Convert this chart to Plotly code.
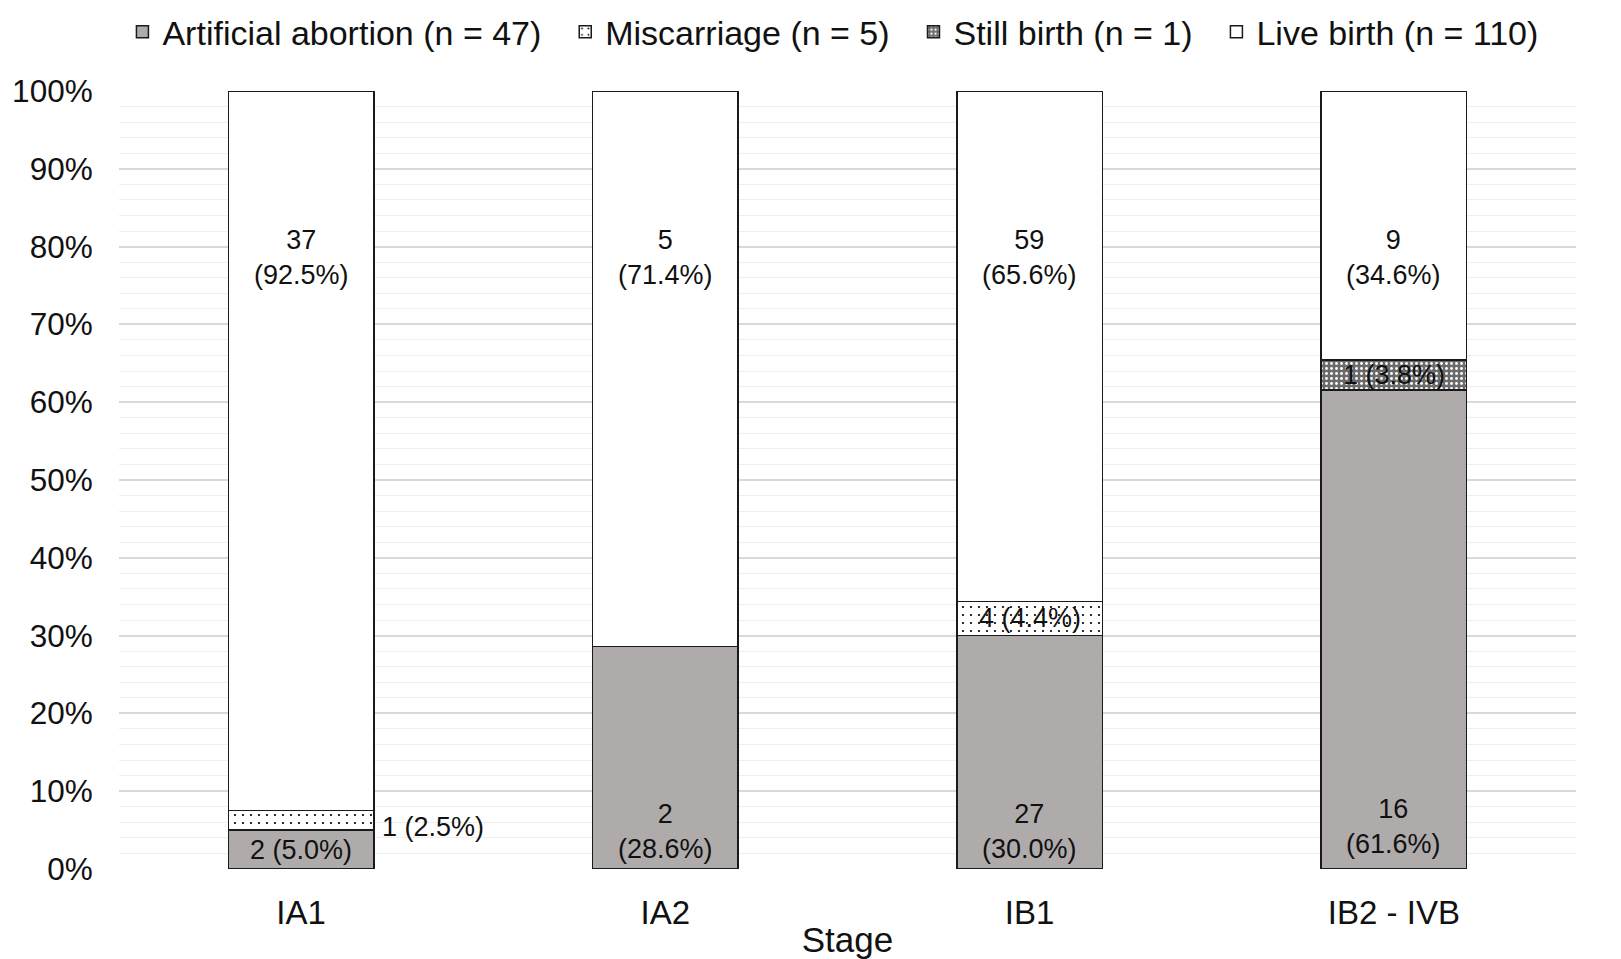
import plotly.graph_objects as go

# ---------------- data ----------------
stages = ["IA1", "IA2", "IB1", "IB2 - IVB"]

aa_n = [2, 2, 27, 16]            # Artificial abortion
aa_pct = [5.0, 28.6, 30.0, 61.6]
mc_n = [1, 0, 4, 0]              # Miscarriage
mc_pct = [2.5, 0.0, 4.4, 0.0]
sb_n = [0, 0, 0, 1]              # Still birth
sb_pct = [0.0, 0.0, 0.0, 3.8]
lb_n = [37, 5, 59, 9]            # Live birth
lb_pct = [92.5, 71.4, 65.6, 34.6]

y_ticks = [0, 10, 20, 30, 40, 50, 60, 70, 80, 90, 100]

# ---------------- style ----------------
FONT = "Liberation Sans, Arial, sans-serif"
LABEL_SIZE = 27
AA_COLOR = "#AFABAB"
aa_label_y = [2.5, 4.8, 4.8, 5.4]        # label placement (style)
aa_label_oneline = [True, False, False, False]
lb_label_y = 78.6
mc_label_outside = [True, False, False, False]
NB = "\u00a0"
legend_pad = [NB * 2, NB * 2, NB * 2, ""]

names = [
    f"Artificial abortion (n = {sum(aa_n)})",
    f"Miscarriage (n = {sum(mc_n)})",
    f"Still birth (n = {sum(sb_n)})",
    f"Live birth (n = {sum(lb_n)})",
]
names = [n + p for n, p in zip(names, legend_pad)]

line = dict(color="#1a1a1a", width=1.5)
fig = go.Figure()
fig.add_trace(go.Bar(x=stages, y=aa_pct, name=names[0],
                     marker=dict(color=AA_COLOR, line=line), width=0.4))
fig.add_trace(go.Bar(x=stages, y=mc_pct, name=names[1],
                     marker=dict(color="white", line=line,
                                 pattern=dict(shape=".", fgcolor="black", bgcolor="white",
                                              size=8, solidity=0.06, fillmode="replace")),
                     width=0.4))
fig.add_trace(go.Bar(x=stages, y=sb_pct, name=names[2],
                     marker=dict(color="#6b6b6b", line=line,
                                 pattern=dict(shape=".", fgcolor="white", bgcolor="#6b6b6b",
                                              size=5, solidity=0.25, fillmode="replace")),
                     width=0.4))
fig.add_trace(go.Bar(x=stages, y=lb_pct, name=names[3],
                     marker=dict(color="white", line=line), width=0.4))

ann = []
af = dict(family=FONT, size=LABEL_SIZE, color="#111111")
for i, s in enumerate(stages):
    # artificial abortion
    sep = " " if aa_label_oneline[i] else "<br>"
    ann.append(dict(x=s, y=aa_label_y[i], text=f"{aa_n[i]}{sep}({aa_pct[i]:.1f}%)",
                    showarrow=False, font=af))
    # miscarriage
    if mc_n[i] > 0:
        yc = aa_pct[i] + mc_pct[i] / 2
        if mc_label_outside[i]:
            ann.append(dict(x=s, y=yc, text=f"{mc_n[i]} ({mc_pct[i]:.1f}%)", showarrow=False,
                            font=af, xanchor="left", xshift=79, yshift=-7))
        else:
            ann.append(dict(x=s, y=yc, text=f"{mc_n[i]} ({mc_pct[i]:.1f}%)", showarrow=False, font=af))
    # still birth
    if sb_n[i] > 0:
        yc = aa_pct[i] + mc_pct[i] + sb_pct[i] / 2
        ann.append(dict(x=s, y=yc, text=f"{sb_n[i]} ({sb_pct[i]:.1f}%)", showarrow=False, font=af))
    # live birth
    ann.append(dict(x=s, y=lb_label_y, text=f"{lb_n[i]}<br>({lb_pct[i]:.1f}%)",
                    showarrow=False, font=af))

# page body has an 8px margin: compensate so the plot area lands where intended
fig.update_layout(
    barmode="stack",
    width=1613, height=951,
    margin=dict(l=111, r=45, t=83, b=90, autoexpand=False),
    paper_bgcolor="white", plot_bgcolor="white",
    font=dict(family=FONT, color="#111111"),
    annotations=ann,
    legend=dict(orientation="h", x=0.49, xanchor="center", y=1.113,
                yanchor="top", font=dict(size=34, family=FONT), traceorder="normal",
                itemwidth=30),
    xaxis=dict(title=dict(text="Stage", font=dict(size=35), standoff=0),
               tickfont=dict(size=33), ticks="outside", ticklen=14, tickcolor="rgba(0,0,0,0)",
               showline=False, showgrid=False, automargin=False),
    yaxis=dict(range=[0, 100], tickvals=y_ticks, ticktext=[f"{v}%" for v in y_ticks],
               tickfont=dict(size=31.5), ticks="outside", ticklen=19, tickcolor="rgba(0,0,0,0)",
               showgrid=True, gridcolor="#d9d9d9", gridwidth=1.5, zeroline=False, automargin=False,
               minor=dict(dtick=2, showgrid=True, gridcolor="#eeeeee", gridwidth=1)),
)

fig.write_html("out.html")
